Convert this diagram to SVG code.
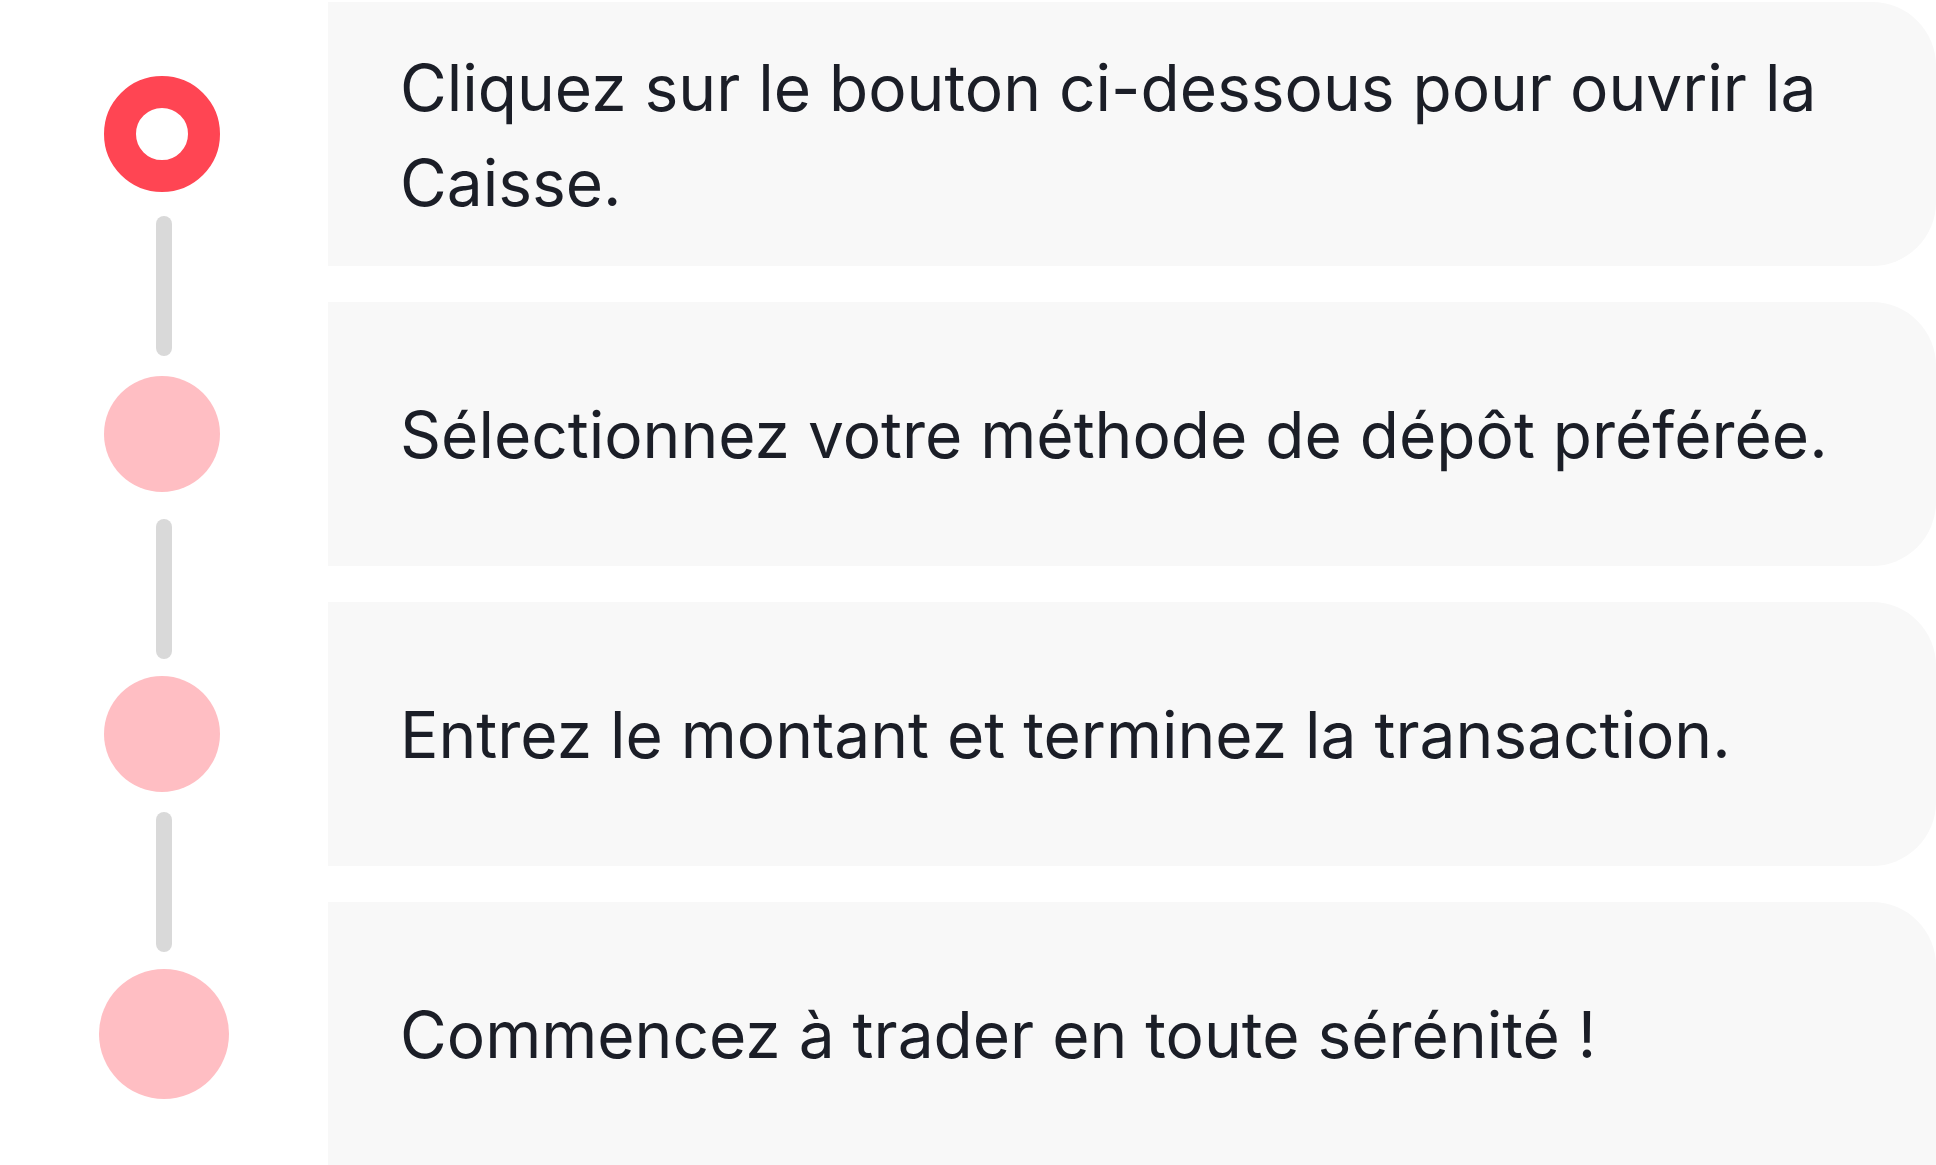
<svg xmlns="http://www.w3.org/2000/svg" width="1936" height="1165" viewBox="0 0 1936 1165">
<style>
.box{fill:#F8F8F8}
.txt{font-family:Inter,"Noto Sans",sans-serif;font-size:64px;fill:#1B1E27}
.pending{fill:#FFBEC3}
.conn{stroke:#D9D9D9;stroke-width:16;stroke-linecap:round;fill:none}
</style>
<rect width="1936" height="1165" fill="#FFFFFF"/>
<g id="connectors">
<line class="conn" x1="164" y1="224" x2="164" y2="348"/>
<line class="conn" x1="164" y1="527" x2="164" y2="651"/>
<line class="conn" x1="164" y1="820" x2="164" y2="944"/>
</g>
<g id="step1">
<path class="box" d="M328 2 H1872 A64 64 0 0 1 1936 66 V202 A64 64 0 0 1 1872 266 H328 Z"/>
<circle cx="162" cy="134" r="42" fill="none" stroke="#FF4553" stroke-width="32"/>
<text class="txt" x="400" y="111">Cliquez sur le bouton ci-dessous pour ouvrir la</text>
<text class="txt" x="400" y="206">Caisse.</text>
</g>
<g id="step2">
<path class="box" d="M328 302 H1872 A64 64 0 0 1 1936 366 V502 A64 64 0 0 1 1872 566 H328 Z"/>
<circle class="pending" cx="162" cy="434" r="58"/>
<text class="txt" x="400" y="458">Sélectionnez votre méthode de dépôt préférée.</text>
</g>
<g id="step3">
<path class="box" d="M328 602 H1872 A64 64 0 0 1 1936 666 V802 A64 64 0 0 1 1872 866 H328 Z"/>
<circle class="pending" cx="162" cy="734" r="58"/>
<text class="txt" x="400" y="758">Entrez le montant et terminez la transaction.</text>
</g>
<g id="step4">
<path class="box" d="M328 902 H1872 A64 64 0 0 1 1936 966 V1165 H328 Z"/>
<circle class="pending" cx="164" cy="1034" r="65"/>
<text class="txt" x="400" y="1058">Commencez à trader en toute sérénité !</text>
</g>
</svg>
